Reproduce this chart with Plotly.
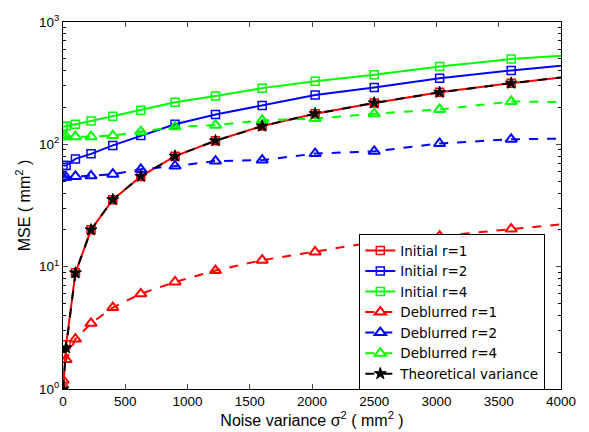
import plotly.graph_objects as go

# Noise variance sigma^2 (mm^2); last point lies beyond the visible axis range
x = [1, 25, 100, 225, 400, 625, 900, 1225, 1600, 2025, 2500, 3025, 3600, 4225]

initial_r1 = [1.0, 2.3, 8.9, 20, 35.3, 54.7, 80, 107, 141, 178, 218, 266, 316, 374]
initial_r2 = [67, 67, 76, 83.6, 98, 118, 146, 175, 208, 253, 291, 347, 402, 460]
initial_r4 = [139, 141, 146, 155, 170, 190, 221, 248, 288, 328, 371, 432, 498, 548]
deblur_r1 = [1.18, 1.74, 2.56, 3.44, 4.63, 6.0, 7.5, 9.3, 11.3, 13.2, 15.9, 17.8, 20.3, 23.3]
deblur_r2 = [53.7, 53.7, 54.7, 55.3, 57, 62.5, 66.5, 73, 74.3, 84, 87.7, 101.6, 110, 112]
deblur_r4 = [115.6, 115.6, 115.6, 115.6, 118, 127, 139, 143.5, 157, 162.5, 178, 193, 224, 220]
theoretical = [1.0, 2.17, 8.9, 20, 35.3, 54.7, 80, 107, 141, 178, 218, 266, 316, 374]

x_ticks = [0, 500, 1000, 1500, 2000, 2500, 3000, 3500, 4000]
y_ticks = [1, 10, 100, 1000]
y_ticktext = ["10<sup>0</sup>", "10<sup>1</sup>", "10<sup>2</sup>", "10<sup>3</sup>"]
y_minor = [m * 10 ** k for k in range(0, 3) for m in range(2, 10)]

series = [
    ("Initial r=1", initial_r1, "#ff0000", "solid", "square-open", 8, 1.5),
    ("Initial r=2", initial_r2, "#0000ff", "solid", "square-open", 8, 1.5),
    ("Initial r=4", initial_r4, "#00ff00", "solid", "square-open", 8, 1.5),
    ("Deblurred r=1", deblur_r1, "#ff0000", "dash", "triangle-up-open", 10, 2),
    ("Deblurred r=2", deblur_r2, "#0000ff", "dash", "triangle-up-open", 10, 2),
    ("Deblurred r=4", deblur_r4, "#00ff00", "dash", "triangle-up-open", 10, 2),
    ("Theoretical variance", theoretical, "#000000", "dash", "star", 9, 1),
]

fig = go.Figure()
for name, ys, color, dash, sym, size, mlw in series:
    fig.add_trace(go.Scatter(
        x=x, y=ys, name=name, mode="lines+markers",
        line=dict(color=color, width=2, dash=dash),
        marker=dict(symbol=sym, size=size, color=color,
                    line=dict(color=color, width=mlw)),
    ))

font = "Liberation Sans, Arial, sans-serif"
fig.update_layout(
    width=589, height=432,
    margin=dict(l=63, r=28, t=15, b=43),
    paper_bgcolor="white", plot_bgcolor="white",
    font=dict(family=font, size=13.5, color="black"),
    showlegend=True,
    legend=dict(x=0.595, y=-0.003, xanchor="left", yanchor="bottom",
                bgcolor="white", bordercolor="black", borderwidth=1,
                font=dict(size=13.5, family="DejaVu Sans, sans-serif"),
                itemwidth=30),
    xaxis=dict(range=[0, 4000], tickvals=x_ticks, ticks="inside", ticklen=5,
               showline=True, linecolor="black", linewidth=1, mirror="allticks",
               showgrid=False, zeroline=False,
               tickfont=dict(size=13.5),
               title=dict(text="Noise variance σ<sup>2</sup> ( mm<sup>2</sup> )",
                          font=dict(size=16), standoff=0)),
    yaxis=dict(type="log", range=[0, 3], tickvals=y_ticks, ticktext=y_ticktext,
               ticks="inside", ticklen=5,
               minor=dict(tickvals=y_minor, ticks="inside", ticklen=3,
                          tickcolor="black", showgrid=False),
               showline=True, linecolor="black", linewidth=1, mirror="allticks",
               showgrid=False, zeroline=False,
               tickfont=dict(size=13.5),
               title=dict(text="MSE ( mm<sup>2</sup> )", font=dict(size=16),
                          standoff=4)),
)

fig.write_html("out.html")
